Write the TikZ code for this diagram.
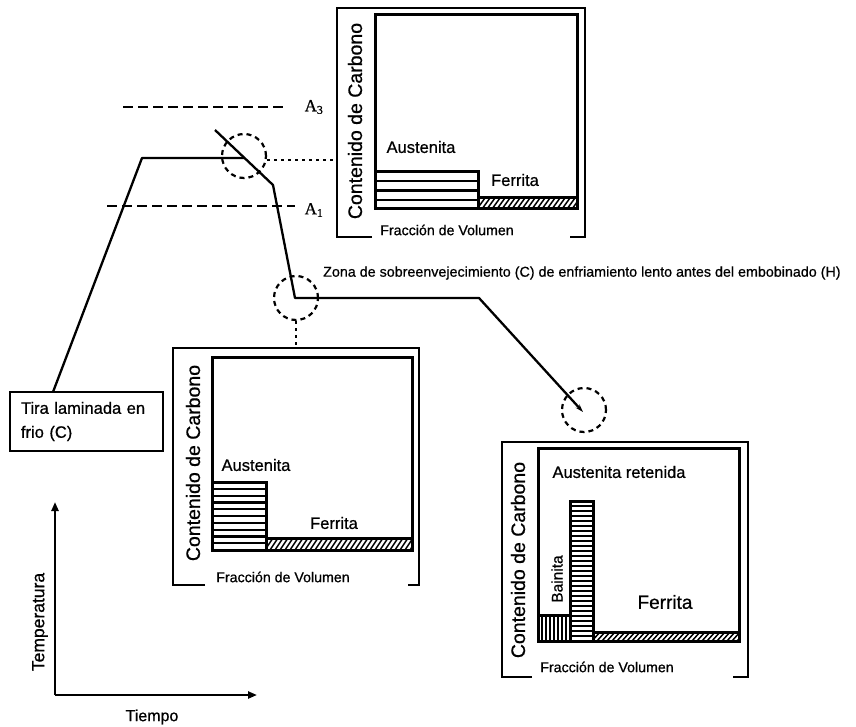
\documentclass[tikz,border=0pt]{standalone}
\usepackage{fontspec}
\setmainfont{Liberation Sans}[FakeBold=0.7]
\newfontfamily\critfont{Liberation Serif}[FakeBold=0.7]
\usetikzlibrary{arrows.meta}

% ferrite strip: white band with slanted hatching and a heavy outline
\newcommand\ferritestrip[4]{%
  \begin{scope}
    \clip (#1,#2) rectangle (#3,#4);
    \pgfmathtruncatemacro\nhatch{(#3-#1)/5+2}
    \foreach \k in {0,...,\nhatch}
      \draw[hatchline] ({#1+\k*5-6},#4) -- ({#1+\k*5+2},#2);
  \end{scope}
  \draw[plotbox] (#1,#2) rectangle (#3,#4);
}
% block of horizontal stripes: x1,y1,x2,y2,number of bands
\newcommand\hstripes[5]{%
  \foreach \k in {1,...,#5}
    \draw[stripe] (#1,{#2+(#4-#2)*\k/#5}) -- (#3,{#2+(#4-#2)*\k/#5});
  \draw[plotbox] (#1,#4) -- (#1,#2) -- (#3,#2) -- (#3,#4);
}
% block of vertical stripes: x1,y1,x2,y2,number of bands
\newcommand\vstripes[5]{%
  \foreach \k in {1,...,#5}
    \draw[stripe] ({#1+(#3-#1)*\k/#5},#2) -- ({#1+(#3-#1)*\k/#5},#4);
  \draw[plotbox] (#1,#4) -- (#1,#2) -- (#3,#2) -- (#3,#4);
}

\begin{document}
\begin{tikzpicture}[x=1pt,y=-1pt,
  frame/.style={line width=2.3pt},
  plotbox/.style={line width=3pt},
  stripe/.style={line width=2.2pt},
  hatchline/.style={line width=1.5pt},
  curve/.style={line width=2.3pt, line join=round},
  critline/.style={line width=2.8pt, dash pattern=on 10pt off 5pt},
  ring/.style={circle, draw, line width=2.2pt, dash pattern=on 5pt off 4pt,
    minimum size=44pt, inner sep=0pt},
  link/.style={line width=2.6pt, dash pattern=on 3pt off 4pt},
  lbl/.style={inner sep=0pt, font=\fontsize{16.5}{19}\selectfont},
  carbon/.style={inner sep=0pt, font=\fontsize{19.5}{22}\selectfont, rotate=90},
  fraction/.style={inner sep=0pt, font=\fontsize{14.2}{16}\selectfont},
  axis/.style={line width=2.2pt, -{Triangle[length=9pt,width=7pt]}},
]
\fill[white] (0,0) rectangle (856,727);
\useasboundingbox (0,0) rectangle (856,727);

% ---------- upper inset: above A1 ----------
\draw[frame] (372,237) -- (337,237) -- (337,8) -- (585,8) -- (585,237) -- (570,237);
\draw[plotbox] (375,15) rectangle (577,209);
\hstripes{375}{172}{478}{209}{4}
\ferritestrip{478}{198}{577}{209}
\node[carbon] (c1) at (355,121) {Contenido de Carbono};
\node[fraction] (v1) at (447,230) {Fracción de Volumen};
\node[lbl] (a1) at (421,147) {Austenita};
\node[lbl] (f1) at (515,180) {Ferrita};
\coordinate (f1w) at (337,160);

% ---------- middle inset ----------
\draw[frame] (205,585) -- (173,585) -- (173,348) -- (419,348) -- (419,585) -- (408,585);
\draw[plotbox] (212,357) rectangle (412,550);
\hstripes{212}{482}{266}{550}{10}
\ferritestrip{266}{538}{412}{550}
\node[carbon] (c2) at (193,463) {Contenido de Carbono};
\node[fraction] (v2) at (283,577) {Fracción de Volumen};
\node[lbl] (a2) at (256,465) {Austenita};
\node[lbl] (f2) at (334,523) {Ferrita};
\coordinate (f2n) at (296,348);

% ---------- lower inset: after the slow cooling ----------
\draw[frame] (532,677) -- (502,677) -- (502,442) -- (748,442) -- (748,677) -- (733,677);
\draw[plotbox] (538,448) rectangle (739,641);
\hstripes{570}{501}{593}{641}{28}
\vstripes{538}{615}{570}{641}{8}
\ferritestrip{593}{632}{739}{641}
\node[carbon] (c3) at (518,560) {Contenido de Carbono};
\node[fraction] (v3) at (607,667) {Fracción de Volumen};
\node[lbl] (a3) at (619,472) {Austenita retenida};
\node[inner sep=0pt, font=\fontsize{19}{22}\selectfont] (f3) at (665,602) {Ferrita};
\node[inner sep=0pt, font=\fontsize{15.5}{18}\selectfont, rotate=90] (b3) at (557,579) {Bainita};

% ---------- critical temperatures ----------
\coordinate (A3l) at (123,107);
\coordinate (A3r) at (283,107);
\coordinate (A1l) at (107,206);
\coordinate (A1r) at (295,206);
\draw[critline] (A3l) -- (A3r);
\draw[critline] (A1l) -- (A1r);
\node[inner sep=0pt, font=\critfont\fontsize{17}{20}\selectfont] (tA3) at (314,107) {A\textsubscript{3}};
\node[inner sep=0pt, font=\critfont\fontsize{17}{20}\selectfont] (tA1) at (314,210) {A\textsubscript{1}};

% ---------- starting strip ----------
\node[draw, line width=2pt, minimum width=153pt, minimum height=59pt, inner sep=0pt,
      text width=131pt, align=left, font=\fontsize{16.5}{24}\selectfont]
      (tira) at (86.5,421.5) {Tira laminada en\\frio (C)};

% ---------- thermal path ----------
\coordinate (p0) at (53,392);
\coordinate (p1) at (142,158);
\coordinate (p2) at (244,158);
\coordinate (q0) at (215,130);
\coordinate (q1) at (273,185);
\coordinate (q2) at (295,298);
\coordinate (q3) at (479,298);
\coordinate (q4) at (583,412);
\draw[curve] (p0) -- (p1) -- (p2);
\draw[curve, -{Stealth[length=8pt,width=5pt]}] (q0) -- (q1) -- (q2) -- (q3) -- (q4);

\node[fraction, anchor=west, font=\fontsize{14.3}{16}\selectfont] (zona) at (323,273)
  {Zona de sobreenvejecimiento (C) de enfriamiento lento antes del embobinado (H)};

% ---------- magnified spots ----------
\node[ring] (ringA) at (244,156) {};
\node[ring] (ringB) at (296,298) {};
\node[ring] (ringC) at (584,410) {};
\draw[link] (ringA.east |- f1w) -- (f1w);
\draw[link] (ringB.south) -- (f2n);

% ---------- axes ----------
\coordinate (org) at (55,695);
\coordinate (tup) at (55,502);
\coordinate (tright) at (257,695);
\draw[axis] (org) -- (tup);
\draw[axis] (org) -- (tright);
\node[lbl, rotate=90, font=\fontsize{17.5}{20}\selectfont] (ytxt) at (40,622) {Temperatura};
\node[lbl, font=\fontsize{16}{19}\selectfont] (xtxt) at (152,717) {Tiempo};
\end{tikzpicture}
\end{document}
